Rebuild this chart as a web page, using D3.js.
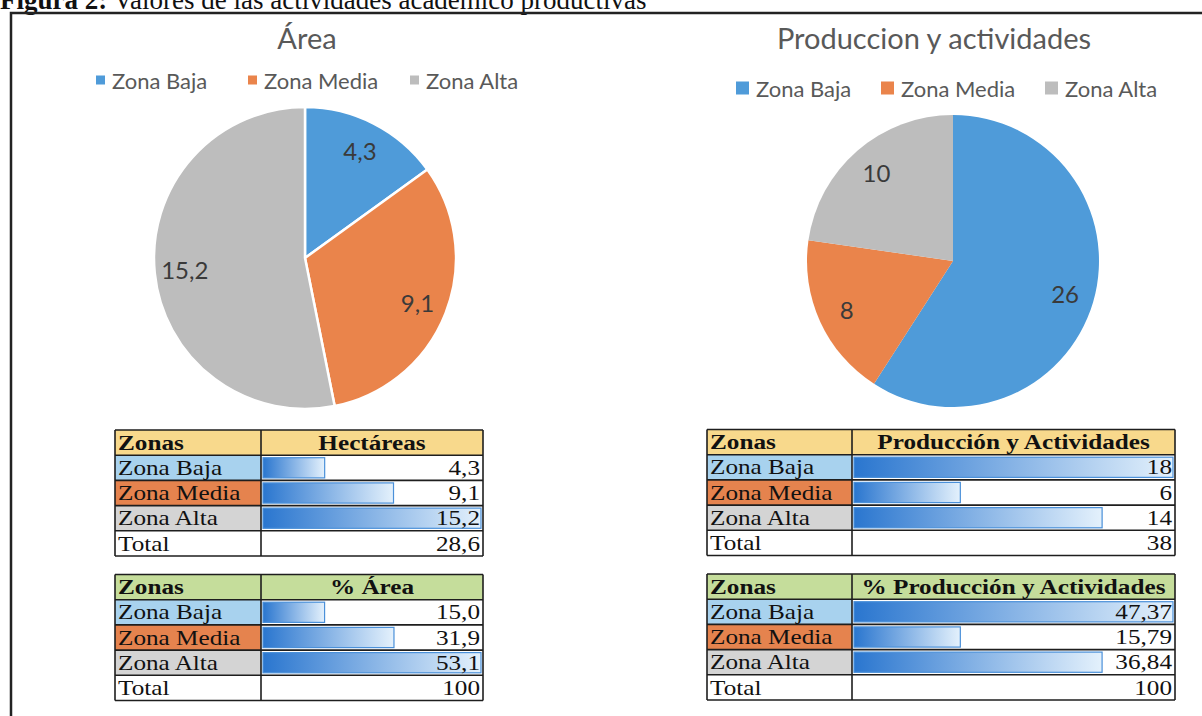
<!DOCTYPE html>
<html><head><meta charset="utf-8">
<script src="https://cdn.jsdelivr.net/npm/d3@7"></script>
<style>body{margin:0;background:#fff;overflow:hidden}</style>
</head><body>
<svg id="c" width="1202" height="716"></svg>
<script>
// ---- data ----
const zones = ["Zona Baja", "Zona Media", "Zona Alta"];
const areaPie = [4.3, 9.1, 15.2];
const prodPie = [26, 8, 10];
const hectareas = [4.3, 9.1, 15.2];
const hectareasTotal = 28.6;
const pctArea = [15.0, 31.9, 53.1];
const pctAreaTotal = 100;
const prodAct = [18, 6, 14];
const prodActTotal = 38;
const pctProd = [47.37, 15.79, 36.84];
const pctProdTotal = 100;

const pieColors = ["#4f9bd9", "#ea844b", "#bdbdbd"];
const zoneCellColors = ["#a8d2ee", "#e5834e", "#d4d4d4"];

const comma = f => v => d3.format(f)(v).replace(".", ",");
const f1 = comma(".1f"), f0 = comma("d"), f2 = comma(".2f");

const svg = d3.select("#c");
const SANS = "Lato, 'Open Sans', sans-serif";
const SERIF = "'Liberation Serif', 'Times New Roman', serif";

// caption (cut at top, as in the scanned source)
const cap = svg.append("text").attr("x", 0).attr("y", 9)
  .attr("font-family", SERIF).attr("font-size", 27).attr("fill", "#111");
cap.append("tspan").attr("font-weight", "bold").text("Figura 2:");
cap.append("tspan").text(" Valores de las actividades académico productivas");

// frame
svg.append("rect").attr("x", 11).attr("y", 13).attr("width", 1230).attr("height", 760)
  .attr("fill", "none").attr("stroke", "#222").attr("stroke-width", 2.5);

function drawPie(cx, cy, r, values, fmt, stroke) {
  const g = svg.append("g").attr("transform", `translate(${cx},${cy})`);
  const arcs = d3.pie().sort(null)(values);
  const arc = d3.arc().innerRadius(0).outerRadius(r);
  g.selectAll("path").data(arcs).join("path")
    .attr("d", arc).attr("fill", (d, i) => pieColors[i])
    .attr("stroke", stroke ? "#fff" : "none").attr("stroke-width", stroke ? 2.5 : 0);
  const lab = d3.arc().innerRadius(r * 0.8).outerRadius(r * 0.8);
  g.selectAll("text").data(arcs).join("text")
    .attr("transform", d => `translate(${lab.centroid(d)})`)
    .attr("text-anchor", "middle").attr("dominant-baseline", "central")
    .attr("font-family", SANS).attr("font-size", 24).attr("fill", "#3a3a3a")
    .text(d => fmt(d.data));
}

function drawTitle(cx, y, t) {
  svg.append("text").attr("x", cx).attr("y", y).attr("text-anchor", "middle")
    .attr("font-family", SANS).attr("font-size", 29).attr("fill", "#595959").text(t);
}

function drawLegend(xs, y, sq, fs) {
  const g = svg.append("g");
  zones.forEach((z, i) => {
    g.append("rect").attr("x", xs[i]).attr("y", y - sq / 2).attr("width", sq).attr("height", sq)
      .attr("fill", pieColors[i]);
    g.append("text").attr("x", xs[i] + sq + 7).attr("y", y).attr("dominant-baseline", "central")
      .attr("font-family", SANS).attr("font-size", fs).attr("fill", "#595959").text(z);
  });
}

function drawTable(x0, x1, x2, top, rowH, header, headColor, values, total, fmt, fmtTotal) {
  const g = svg.append("g");
  const nRows = values.length + 2;
  const y = i => top + i * rowH;
  g.append("rect").attr("x", x0).attr("y", y(0)).attr("width", x2 - x0).attr("height", rowH).attr("fill", headColor);
  values.forEach((v, i) => {
    g.append("rect").attr("x", x0).attr("y", y(i + 1)).attr("width", x1 - x0).attr("height", rowH)
      .attr("fill", zoneCellColors[i]);
  });
  const xs = d3.scaleLinear().domain([0, d3.max(values)]).range([0, x2 - x1 - 4]);
  g.selectAll("rect.bar").data(values).join("rect").attr("class", "bar")
    .attr("x", x1 + 2).attr("y", (d, i) => y(i + 1) + 2.5)
    .attr("width", d => xs(d)).attr("height", rowH - 5)
    .attr("fill", "url(#barGrad)").attr("stroke", "#4a90d9").attr("stroke-width", 1.2);
  for (let i = 0; i <= nRows; i++) {
    g.append("line").attr("x1", x0).attr("x2", x2).attr("y1", y(i)).attr("y2", y(i))
      .attr("stroke", "#1e1e1e").attr("stroke-width", 1.6);
  }
  [x0, x1, x2].forEach(x => g.append("line").attr("x1", x).attr("x2", x).attr("y1", y(0)).attr("y2", y(nRows))
    .attr("stroke", "#1e1e1e").attr("stroke-width", 1.6));
  const base = i => y(i) + rowH - 5.5;
  const txt = (x, i, t, anchor, bold) => g.append("text")
    .attr("transform", `translate(${x},${base(i)}) scale(1.2,1)`)
    .attr("text-anchor", anchor).attr("font-family", SERIF).attr("font-size", 21)
    .attr("font-weight", bold ? "bold" : "normal").attr("fill", "#111").text(t);
  txt(x0 + 3, 0, "Zonas", "start", true);
  txt((x1 + x2) / 2, 0, header, "middle", true);
  zones.forEach((z, i) => txt(x0 + 3, i + 1, z, "start", false));
  values.forEach((v, i) => txt(x2 - 3, i + 1, fmt(v), "end", false));
  txt(x0 + 3, nRows - 1, "Total", "start", false);
  txt(x2 - 3, nRows - 1, fmtTotal(total), "end", false);
}

const defs = svg.append("defs");
const gr = defs.append("linearGradient").attr("id", "barGrad").attr("x1", 0).attr("x2", 1).attr("y1", 0).attr("y2", 0);
gr.append("stop").attr("offset", 0).attr("stop-color", "#2a76cf");
gr.append("stop").attr("offset", 1).attr("stop-color", "#e4f1fc");

// left chart
drawTitle(307, 49, "Área");
drawLegend([96, 248, 410], 80, 9, 22);
drawPie(305, 258, 151, areaPie, f1, true);

// right chart
drawTitle(934, 49, "Produccion y actividades");
drawLegend([736, 881, 1045], 88, 13, 22);
drawPie(953, 261, 146, prodPie, f0, false);

// tables
const H = 25.2;
drawTable(115, 261, 483, 430, H, "Hectáreas", "#f8d98c", hectareas, hectareasTotal, f1, f1);
drawTable(115, 261, 483, 574.5, H, "% Área", "#c5dd9b", pctArea, pctAreaTotal, f1, f0);
drawTable(707, 852, 1175, 429.5, H, "Producción y Actividades", "#f8d98c", prodAct, prodActTotal, f0, f0);
drawTable(707, 852, 1175, 574, H, "% Producción y Actividades", "#c5dd9b", pctProd, pctProdTotal, f2, f0);
</script>
</body></html>
